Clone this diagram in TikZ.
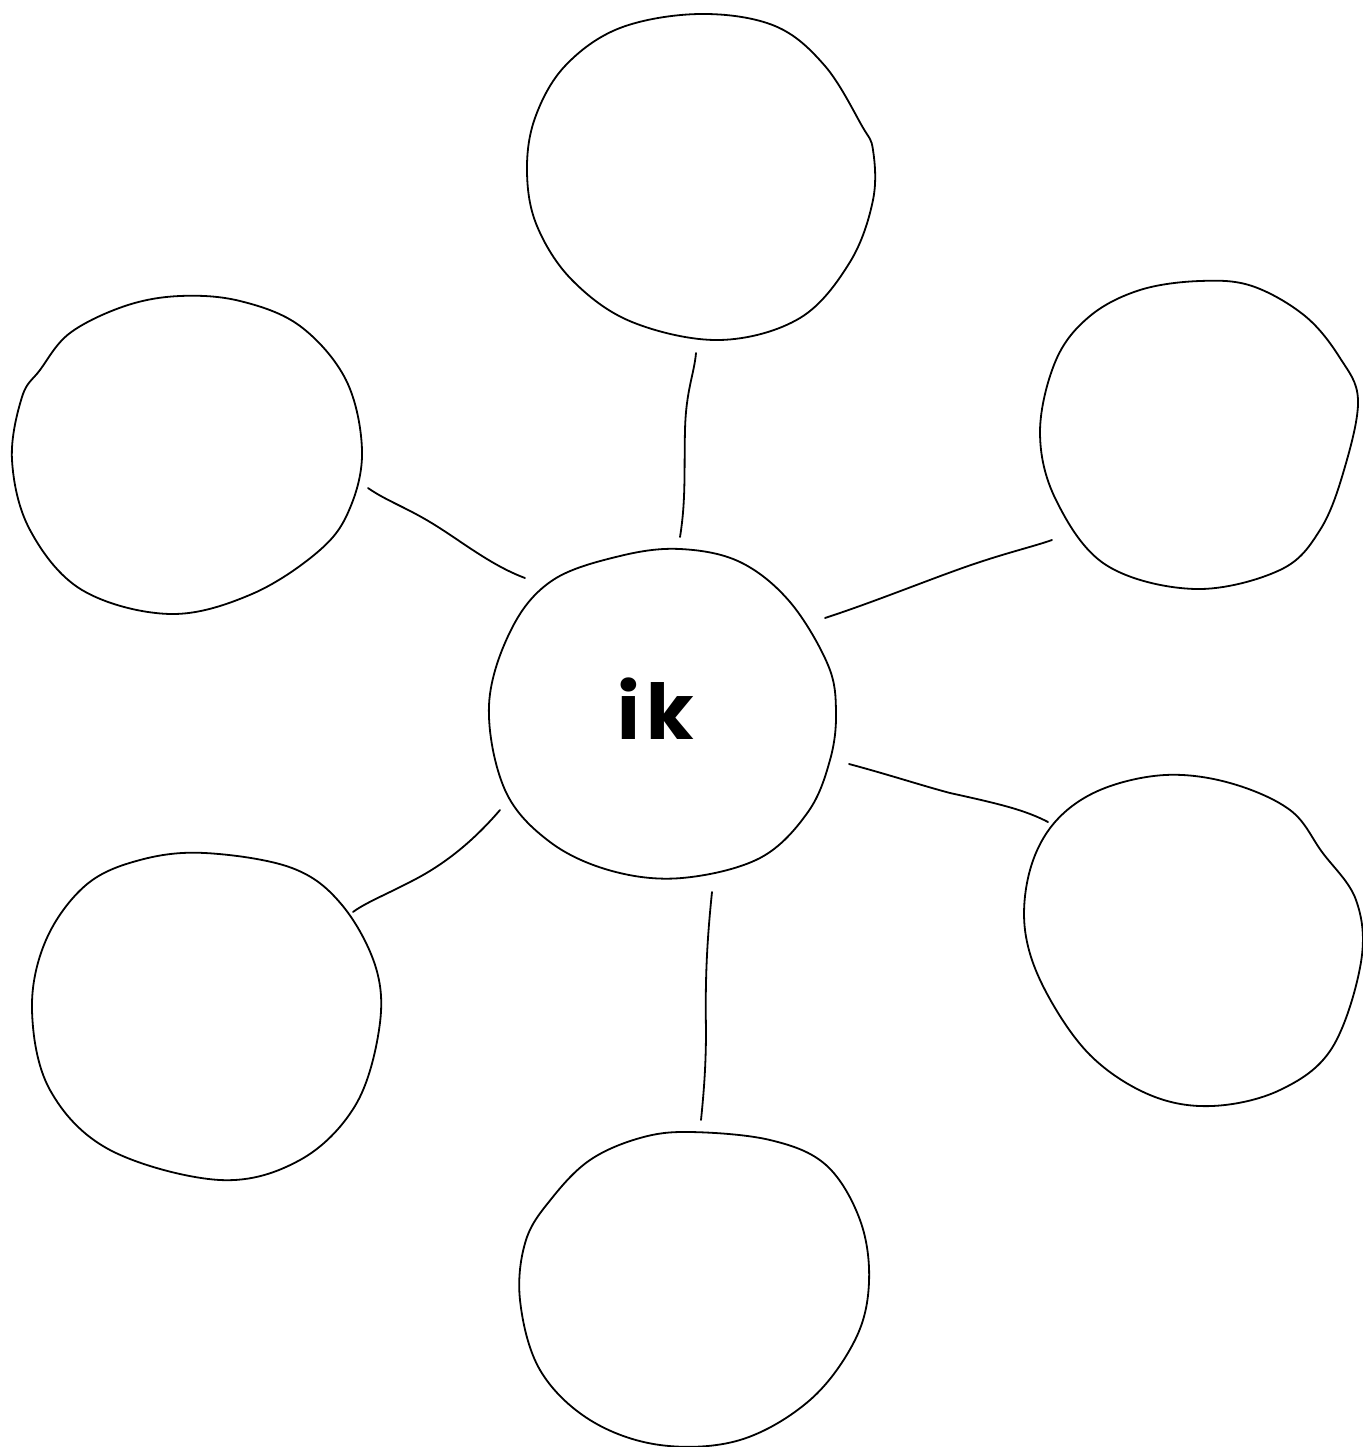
\documentclass[tikz,border=0pt]{standalone}
\usepackage{fontspec}
\newfontfamily\pop{Poppins}
\begin{document}
\begin{tikzpicture}[x=1pt,y=-1pt,
  blob/.style={draw=black,line width=1.8pt,line join=round},
  link/.style={draw=black,line width=1.8pt,line cap=round}]
\useasboundingbox[fill=white] (0,0) rectangle (1362,1447);
% center
\draw[blob] plot[smooth cycle,tension=0.6] coordinates {(680,549) (620,556) (553,580) (512,628) (489,705) (505,790) (550,842) (612,871) (682,878) (760,858) (808,812) (830,760) (836,712) (828,665) (790,602) (740,562)};
\node (c) at (656,709) {\pop\bfseries\fontsize{77}{90}\selectfont i\kern6pt k};
% top
\draw[blob] plot[smooth cycle,tension=0.6] coordinates {(700,14) (620,28) (565,66) (535,118) (527,172) (537,226) (572,280) (632,322) (720,340) (800,318) (850,262) (873,200) (873,150) (862,126) (825,66) (775,26)};
% top-left
\draw[blob] plot[smooth cycle,tension=0.6] coordinates {(180,296) (125,306) (70,333) (40,370) (22,397) (12,460) (30,530) (82,590) (170,614) (252,594) (320,550) (350,508) (362,450) (346,380) (300,326) (240,301)};
% right-top
\draw[blob] plot[smooth cycle,tension=0.6] coordinates {(1200,281) (1140,290) (1090,316) (1056,360) (1040,432) (1056,500) (1106,565) (1195,589) (1280,570) (1320,530) (1344,470) (1358,400) (1340,358) (1305,316) (1252,286)};
% left-bottom
\draw[blob] plot[smooth cycle,tension=0.6] coordinates {(205,853) (140,860) (86,885) (46,940) (32,1010) (50,1090) (110,1150) (220,1180) (300,1160) (355,1106) (379,1030) (376,968) (342,905) (292,868)};
% right-bottom
\draw[blob] plot[smooth cycle,tension=0.6] coordinates {(1165,775) (1100,790) (1055,822) (1030,870) (1025,930) (1045,990) (1090,1055) (1150,1095) (1212,1106) (1280,1090) (1332,1048) (1361,962) (1356,900) (1322,852) (1290,810) (1230,783)};
% bottom
\draw[blob] plot[smooth cycle,tension=0.6] coordinates {(690,1132) (640,1138) (590,1160) (552,1198) (526,1240) (520,1300) (540,1370) (590,1420) (660,1445) (740,1440) (810,1400) (855,1340) (869,1282) (860,1220) (826,1165) (770,1140)};
% connector ends
\coordinate (t1) at (680,537); \coordinate (t2) at (696,353);
\coordinate (l1) at (525,578); \coordinate (l2) at (368,488);
\coordinate (r1) at (825,618); \coordinate (r2) at (1052,540);
\coordinate (q1) at (849,764); \coordinate (q2) at (1048,822);
\coordinate (p1) at (500,810); \coordinate (p2) at (353,912);
\coordinate (b1) at (712,892); \coordinate (b2) at (701,1120);
\draw[link] (t1) .. controls (686,500) and (684,470) .. (685,430) .. controls (686,390) and (694,375) .. (t2);
\draw[link] (l1) .. controls (490,565) and (460,540) .. (430,522) .. controls (405,507) and (385,500) .. (l2);
\draw[link] (r1) .. controls (880,600) and (940,575) .. (980,562) .. controls (1010,552) and (1035,546) .. (r2);
\draw[link] (q1) .. controls (890,775) and (920,785) .. (950,793) .. controls (1000,804) and (1025,810) .. (q2);
\draw[link] (p1) .. controls (470,845) and (440,867) .. (410,882) .. controls (385,895) and (365,903) .. (p2);
\draw[link] (b1) .. controls (707,940) and (705,980) .. (706,1030) .. controls (706,1070) and (703,1100) .. (b2);
\end{tikzpicture}
\end{document}
